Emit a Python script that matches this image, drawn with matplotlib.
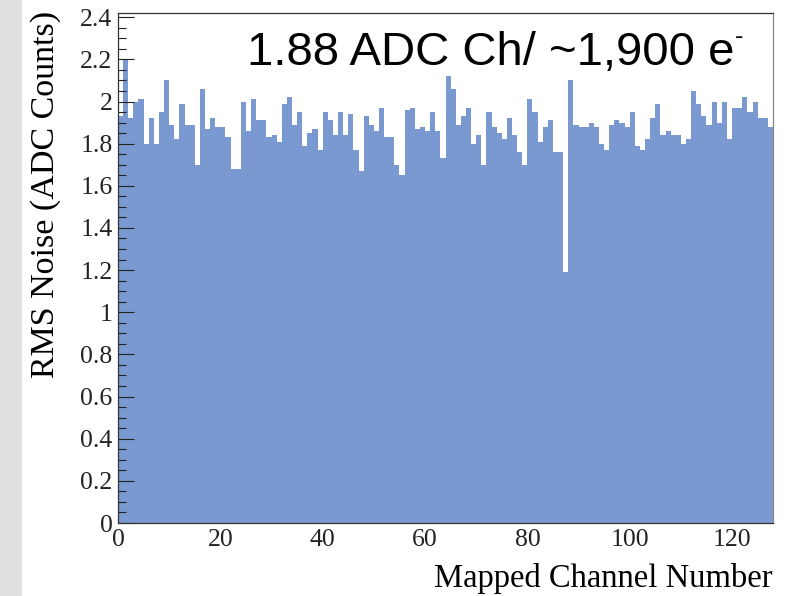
import numpy as np
import matplotlib
matplotlib.use('Agg')
from matplotlib import pyplot as plt
from matplotlib.ticker import MultipleLocator
from matplotlib.patches import Rectangle

# RMS noise per mapped channel
rms_noise = [
    1.93, 2.20, 1.92, 2.00, 2.01, 1.80, 1.92, 1.80, 1.95, 2.10,
    1.89, 1.82, 1.99, 1.89, 1.89, 1.70, 2.06, 1.87, 1.92, 1.88,
    1.88, 1.83, 1.68, 1.68, 2.00, 1.86, 2.01, 1.91, 1.91, 1.83,
    1.84, 1.81, 1.99, 2.02, 1.89, 1.95, 1.79, 1.85, 1.87, 1.77,
    1.95, 1.91, 1.84, 1.95, 1.84, 1.94, 1.77, 1.67, 1.93, 1.89,
    1.86, 1.97, 1.83, 1.83, 1.70, 1.65, 1.96, 1.97, 1.87, 1.88,
    1.86, 1.95, 1.86, 1.73, 2.12, 2.06, 1.89, 1.93, 1.97, 1.80,
    1.84, 1.70, 1.95, 1.88, 1.85, 1.82, 1.92, 1.84, 1.76, 1.70,
    2.01, 1.95, 1.81, 1.88, 1.91, 1.76, 1.76, 1.19, 2.10, 1.89,
    1.88, 1.88, 1.90, 1.88, 1.80, 1.77, 1.89, 1.91, 1.90, 1.88,
    1.95, 1.79, 1.77, 1.82, 1.92, 1.99, 1.84, 1.86, 1.84, 1.84,
    1.80, 1.82, 2.05, 1.99, 1.93, 1.89, 2.00, 1.90, 2.00, 1.82,
    1.97, 1.97, 2.02, 1.95, 2.00, 1.92, 1.92, 1.88,
]
channels = np.arange(len(rms_noise))
x_ticks = [0, 20, 40, 60, 80, 100, 120]
y_ticks = [0, 0.2, 0.4, 0.6, 0.8, 1, 1.2, 1.4, 1.6, 1.8, 2, 2.2, 2.4]
y_tick_labels = ['0', '0.2', '0.4', '0.6', '0.8', '1', '1.2', '1.4', '1.6', '1.8', '2', '2.2', '2.4']

plt.rcParams['font.family'] = ['Liberation Serif', 'DejaVu Serif']

fig = plt.figure(figsize=(7.9, 5.96), dpi=100)
fig.patch.set_facecolor('white')
# grey slide edge on the left
fig.patches.append(Rectangle((0, 0), 22 / 790, 1, transform=fig.transFigure,
                             facecolor='#e0e0e0', edgecolor='none', zorder=0))

ax = fig.add_axes([118 / 790, 1 - 523 / 596, 655 / 790, 510 / 596])
ax.bar(channels, rms_noise, width=1.0, align='edge', color='#7a99d1',
       edgecolor='none', linewidth=0)

ax.set_xlim(0, 128)
ax.set_ylim(0, 2.42)
ax.set_xticks(x_ticks)
ax.set_yticks(y_ticks)
ax.set_yticklabels(y_tick_labels)
ax.yaxis.set_minor_locator(MultipleLocator(0.05))

ax.tick_params(axis='y', which='major', direction='in', length=11.5, width=0.8,
               labelsize=18.5, pad=4, colors='#222222')
ax.tick_params(axis='y', which='minor', direction='in', length=5.5, width=0.8,
               colors='#222222')
ax.tick_params(axis='x', which='major', length=0, labelsize=18.5, pad=4,
               colors='#222222')

for s in ax.spines.values():
    s.set_linewidth(0.9)
    s.set_color('#333333')
ax.spines['right'].set_color('#888888')

ax.set_xlabel('Mapped Channel Number', fontsize=23.5, loc='right', va='center')
ax.xaxis.set_label_coords(1.0, -0.108)
ax.set_ylabel('RMS Noise (ADC Counts)', fontsize=24.5, loc='top', va='center')
ax.yaxis.set_label_coords(-0.111, 1.005)

note = ax.text(0.197, 0.898, '1.88 ADC Ch/ ~1,900 e', transform=ax.transAxes,
               fontsize=34, family='Liberation Sans', ha='left', va='baseline',
               color='black')
ax.annotate('-', xy=(1.0, 0.86), xycoords=note, xytext=(0.5, 0),
            textcoords='offset points', fontsize=18, family='Liberation Sans',
            ha='left', va='center', color='black')

fig.savefig('out.png', dpi=100)
